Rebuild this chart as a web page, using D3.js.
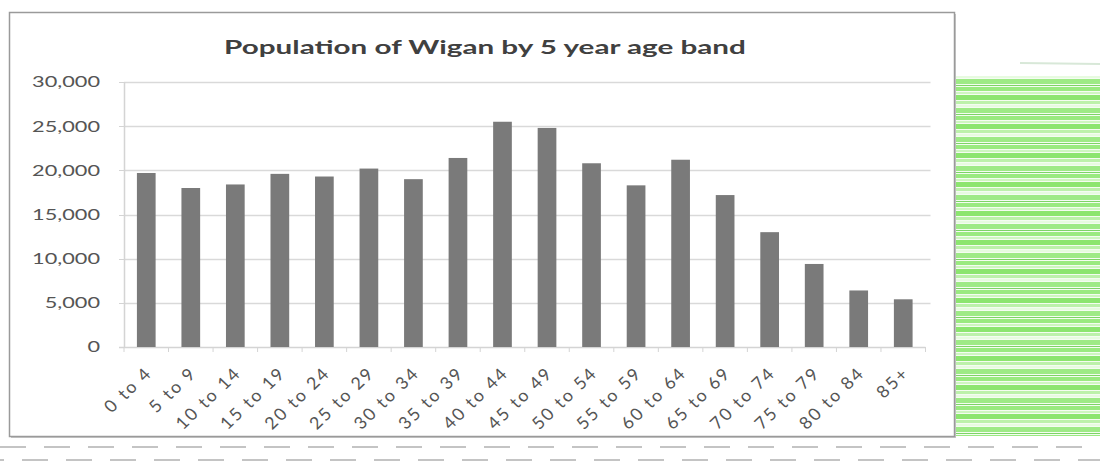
<!DOCTYPE html>
<html>
<head>
<meta charset="utf-8">
<script src="https://cdn.jsdelivr.net/npm/d3@7"></script>
<style>
  html, body { margin: 0; padding: 0; background: #ffffff; }
  svg { display: block; }
  text { font-family: Lato, "Open Sans", sans-serif; }
</style>
</head>
<body>
<svg id="chart" width="1100" height="468"></svg>
<script>
// ---- data ----
const title = "Population of Wigan by 5 year age band";
const categories = ["0 to 4","5 to 9","10 to 14","15 to 19","20 to 24","25 to 29","30 to 34","35 to 39","40 to 44","45 to 49","50 to 54","55 to 59","60 to 64","65 to 69","70 to 74","75 to 79","80 to 84","85+"];
const population = [19700,18000,18400,19600,19300,20200,19000,21400,25500,24800,20800,18300,21200,17200,13000,9400,6400,5400];
const yTicks = [0,5000,10000,15000,20000,25000,30000];

// ---- layout ----
const W = 1100, H = 468;
const box = {x: 9.5, y: 12.5, w: 945, h: 424};
const plot = {left: 124, right: 925.5, top: 82, bottom: 347};
const stretch = 1.45;   // horizontal stretch of y labels
const xStretch = 1.05;  // horizontal stretch of rotated labels

const svg = d3.select("#chart");
svg.append("rect").attr("width", W).attr("height", H).attr("fill", "#ffffff");

// background decoration (right side green streaks, dashed lines below)
const defs = svg.append("defs");
const pat = defs.append("pattern").attr("id", "streaks")
  .attr("patternUnits", "userSpaceOnUse").attr("width", 145).attr("height", 29);
pat.append("rect").attr("width", 145).attr("height", 29).attr("fill", "#f3fcef");
[[0, 4, "#8fe872"], [5, 2, "#c9f5b9"], [8, 5, "#7fe25f"], [14, 3, "#b4efa0"],
 [18, 2, "#e4fadc"], [21, 5, "#93e878"], [27, 1, "#6fcf55"]].forEach(([yy, hh, c]) => {
  pat.append("rect").attr("y", yy).attr("width", 145).attr("height", hh).attr("fill", c);
});
svg.append("rect").attr("x", 955).attr("y", 76).attr("width", 145).attr("height", 360)
  .attr("fill", "url(#streaks)").attr("opacity", 0.9);
svg.append("line").attr("x1", 1020).attr("x2", 1100).attr("y1", 63).attr("y2", 64)
  .attr("stroke", "#d8e8d8").attr("stroke-width", 2);
[[447, 0], [460, 22]].forEach(([yy, off]) => {
  svg.append("line").attr("x1", 0).attr("x2", W).attr("y1", yy).attr("y2", yy)
    .attr("stroke", "#c4c4c4").attr("stroke-width", 2)
    .attr("stroke-dasharray", "26,18").attr("stroke-dashoffset", off);
});

// chart box
svg.append("rect").attr("x", box.x + 1.5).attr("y", box.y + 1.5).attr("width", box.w).attr("height", box.h)
  .attr("fill", "#c8c8c8");
svg.append("rect").attr("x", box.x).attr("y", box.y).attr("width", box.w).attr("height", box.h)
  .attr("fill", "#ffffff").attr("stroke", "#9a9a9a").attr("stroke-width", 1.5);

// scales
const x = d3.scaleBand().domain(categories).range([plot.left, plot.right])
  .paddingInner(0.58).paddingOuter(0.29);
const y = d3.scaleLinear().domain([0, 30000]).range([plot.bottom, plot.top]);

// gridlines
svg.append("g").selectAll("line").data(yTicks.filter(d => d > 0)).join("line")
  .attr("x1", plot.left).attr("x2", plot.right + 5)
  .attr("y1", d => Math.round(y(d)) + 0.5).attr("y2", d => Math.round(y(d)) + 0.5)
  .attr("stroke", "#d9d9d9").attr("stroke-width", 1.5);

// axes lines
svg.append("line").attr("x1", plot.left + 0.5).attr("x2", plot.left + 0.5)
  .attr("y1", plot.top).attr("y2", plot.bottom).attr("stroke", "#d4d4d4").attr("stroke-width", 1.5);
svg.append("line").attr("x1", plot.left - 5).attr("x2", plot.right)
  .attr("y1", plot.bottom + 0.5).attr("y2", plot.bottom + 0.5).attr("stroke", "#d4d4d4").attr("stroke-width", 1.5);
const step = x.step();
svg.append("g").selectAll("line").data(d3.range(categories.length + 1)).join("line")
  .attr("x1", i => plot.left + i * step).attr("x2", i => plot.left + i * step)
  .attr("y1", plot.bottom).attr("y2", plot.bottom + 5)
  .attr("stroke", "#d4d4d4").attr("stroke-width", 1);
svg.append("g").selectAll("line").data(yTicks).join("line")
  .attr("x1", plot.left - 5).attr("x2", plot.left)
  .attr("y1", d => Math.round(y(d)) + 0.5).attr("y2", d => Math.round(y(d)) + 0.5)
  .attr("stroke", "#d4d4d4").attr("stroke-width", 1);

// bars
svg.append("g").selectAll("rect").data(population).join("rect")
  .attr("x", (d, i) => x(categories[i]))
  .attr("width", x.bandwidth())
  .attr("y", d => y(d))
  .attr("height", d => y(0) - y(d))
  .attr("fill", "#7a7a7a");

// y tick labels
const fmt = d3.format(",");
svg.append("g").selectAll("text").data(yTicks).join("text")
  .attr("transform", d => `translate(100,${y(d)}) scale(${stretch},1)`)
  .attr("dy", "0.36em")
  .attr("text-anchor", "end")
  .attr("font-size", 15)
  .attr("fill", "#555555")
  .text(d => fmt(d));

// x tick labels (rotated)
svg.append("g").selectAll("text").data(categories).join("text")
  .attr("transform", d => `translate(${x(d) + x.bandwidth() / 2 + 7},${plot.bottom + 27}) scale(${xStretch},1) rotate(-45)`)
  .attr("text-anchor", "end")
  .attr("font-size", 17)
  .attr("letter-spacing", 2)
  .attr("fill", "#555555")
  .text(d => d);

// title
svg.append("text")
  .attr("transform", `translate(485,54) scale(1.52,1)`)
  .attr("text-anchor", "middle")
  .attr("font-size", 19.5)
  .attr("font-weight", "bold")
  .attr("fill", "#404040")
  .text(title);
</script>
</body>
</html>
